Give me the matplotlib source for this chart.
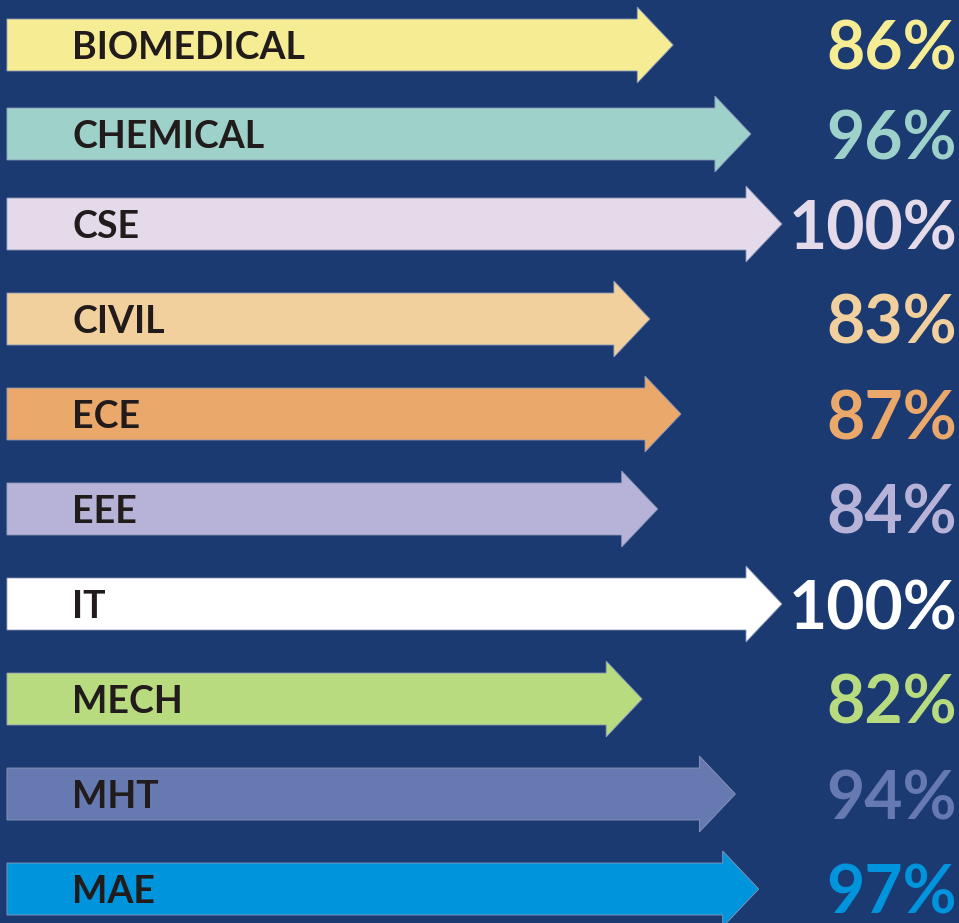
import matplotlib.pyplot as plt
from matplotlib.patches import FancyArrow

departments = ["BIOMEDICAL", "CHEMICAL", "CSE", "CIVIL", "ECE",
               "EEE", "IT", "MECH", "MHT", "MAE"]
placement = [86, 96, 100, 83, 87, 84, 100, 82, 94, 97]
colors = ["#F5EC94", "#9DD1CA", "#E4DAE9", "#F2D09E", "#EBA86B",
          "#B7B2D8", "#FFFFFF", "#B8DB80", "#6679B1", "#0094DD"]

BG = "#1B3A72"
# row centres in pixels (top-down)
row_y = [45, 134, 224, 319, 414, 509, 604, 699, 794, 889]

W, H, DPI = 959, 923, 100
PX_PER_PCT = 7.77
X0_PX = 5

fig = plt.figure(figsize=(W / DPI, H / DPI), dpi=DPI, facecolor=BG)
ax = fig.add_axes([0, 0, 1, 1])
ax.set_facecolor(BG)
ax.set_xlim(-X0_PX / PX_PER_PCT, (W - X0_PX) / PX_PER_PCT)
ax.set_ylim(H, 0)
ax.axis("off")

for name, val, col, y in zip(departments, placement, colors, row_y):
    arr = FancyArrow(0.25, y, val - 0.25, 0, width=52, head_width=76,
                     head_length=36 / PX_PER_PCT, length_includes_head=True,
                     facecolor=col, edgecolor="#8a97b8", linewidth=0.6)
    ax.add_patch(arr)
    ax.text(68 / PX_PER_PCT - 0.1, y + 14, name, fontsize=27, fontweight="bold",
            family="Lato", color="#211C1B", ha="left", va="baseline")
    ax.text((957 - X0_PX) / PX_PER_PCT, y + 25, f"{val}%", fontsize=47.5,
            fontweight="bold", family="Lato", color=col,
            ha="right", va="baseline")

fig.savefig("out.png", dpi=DPI, facecolor=BG)
plt.close(fig)
